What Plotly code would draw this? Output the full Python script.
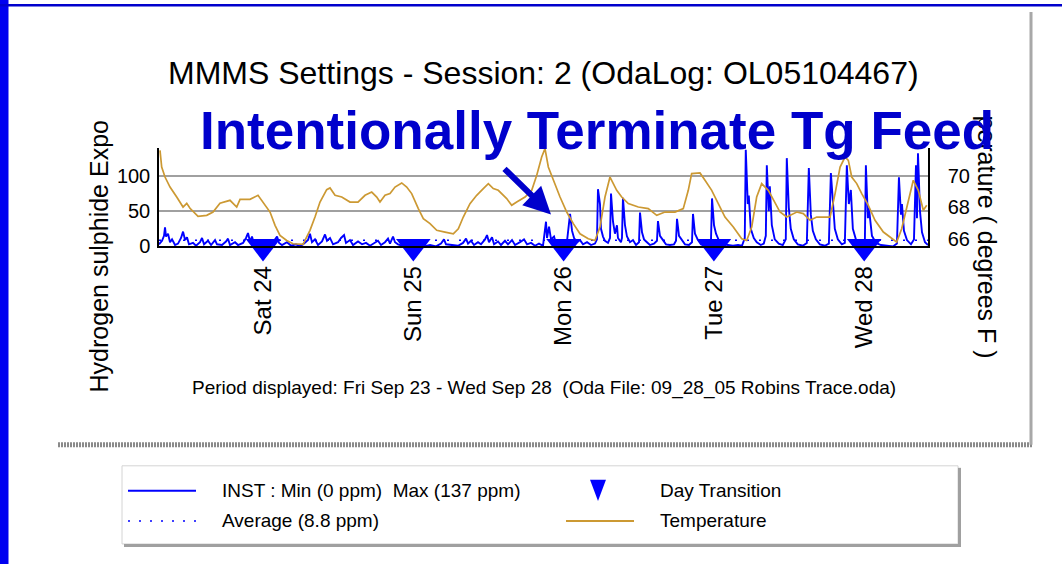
import pandas as pd
import plotly.graph_objects as go

W, H = 1062, 564          # reference picture size (coordinate system for decorations)
H_FIG = 576               # rendered height
BASE = pd.Timestamp("2005-09-23")

# ---------------- data ----------------
TEMP_HOURS = [7.55, 7.82, 8.35, 9.15, 10.22, 11.23, 11.82, 12.34, 13.62, 15.01, 16.02, 17.13, 18.73,
              19.80, 20.33, 21.92, 23.20, 24.00, 25.12, 25.92, 26.71, 27.78, 28.79, 30.39, 31.19, 31.50,
              32.30, 33.10, 34.17, 34.70, 35.50, 36.57, 37.89, 39.17, 40.29, 41.36, 42.16, 42.68, 43.48,
              44.28, 45.08, 46.15, 46.95, 47.74, 48.80, 49.60, 50.67, 51.74, 53.06, 54.39, 55.19, 55.98,
              57.05, 58.12, 59.18, 59.98, 60.77, 61.57, 62.91, 63.71, 64.51, 65.84, 66.91, 67.71, 68.50,
              69.03, 69.56, 70.36, 71.43, 72.50, 73.55, 74.62, 75.94, 77.01, 77.81, 78.61, 79.41, 80.48,
              81.28, 82.33, 83.93, 85.52, 86.87, 88.19, 89.79, 91.11, 91.91, 92.45, 93.78, 94.58, 95.65,
              96.70, 97.77, 99.10, 100.44, 101.24, 102.04, 102.83, 103.63, 104.69, 105.76, 106.56, 107.63,
              109.23, 110.28, 111.35, 112.42, 114.55, 115.35, 116.15, 116.94, 117.47, 118.01, 118.81,
              119.61, 120.66, 121.73, 123.06, 124.12, 125.19, 125.99, 126.79, 127.84, 128.64, 129.44, 129.99]
TEMP_F = [71.40, 70.33, 69.69, 69.05, 68.41, 67.77, 68.01, 67.69, 67.17, 67.24, 67.45, 68.01, 68.20,
          67.77, 68.26, 68.26, 68.52, 68.09, 67.45, 66.60, 65.96, 65.63, 65.42, 65.38, 65.96, 66.28,
          67.13, 68.09, 68.88, 68.99, 68.52, 68.41, 68.09, 68.09, 68.52, 68.73, 68.41, 68.09, 68.52,
          68.63, 69.05, 69.31, 69.05, 68.63, 67.67, 67.03, 66.71, 66.28, 66.17, 66.06, 66.38, 67.13,
          67.99, 68.52, 68.95, 69.27, 68.95, 68.84, 68.31, 67.88, 68.09, 68.41, 68.84, 69.80, 70.97,
          71.51, 70.33, 69.48, 68.41, 67.45, 66.71, 66.06, 65.74, 65.63, 66.49, 68.41, 69.69, 68.84,
          68.41, 67.99, 67.77, 67.67, 67.24, 67.45, 67.45, 67.67, 68.84, 69.91, 69.95, 69.48, 68.84,
          67.99, 67.13, 66.49, 65.74, 65.63, 66.49, 68.41, 69.27, 68.84, 68.09, 67.45, 67.13,
          67.45, 67.35, 66.92, 67.13, 67.13, 68.63, 70.33, 70.97, 70.76, 69.69, 69.27,
          68.63, 67.88, 66.92, 66.17, 65.85, 65.53, 66.38, 67.77, 69.48, 68.84, 67.56, 67.88]

INST_HOURS = [7.39, 7.87, 8.19, 8.35, 8.51, 8.83, 9.15, 9.47, 9.95, 10.43, 10.91, 11.23, 11.55, 11.86,
              12.18, 12.82, 13.30, 13.94, 14.26, 14.58, 15.22, 15.70, 16.34, 16.65, 17.45, 18.09, 18.41,
              18.73, 19.53, 20.01, 20.81, 21.29, 21.60, 21.92, 22.24, 22.56, 23.20, 23.68, 24.48, 25.12,
              25.76, 26.24, 26.56, 27.03, 27.83, 28.47, 29.27, 29.91, 30.55, 31.19, 31.50, 31.82, 32.30,
              32.78, 33.42, 33.90, 34.22, 34.70, 35.18, 35.98, 36.46, 36.94, 37.25, 37.89, 38.37, 39.17,
              39.81, 40.45, 41.09, 41.72, 42.36, 42.84, 43.48, 43.96, 44.28, 44.76, 45.08, 45.56, 46.20,
              47.00, 47.79, 48.75, 49.71, 50.67, 51.62, 52.42, 52.90, 53.22, 54.18, 55.14, 55.94, 56.42,
              56.74, 57.21, 57.69, 58.33, 58.81, 59.45, 59.77, 60.09, 60.57, 60.89, 61.53, 62.00, 62.64,
              63.12, 63.76, 64.24, 65.04, 65.68, 66.16, 66.80, 67.43, 68.07, 68.71, 69.19, 69.35, 69.67,
              69.99, 70.47, 70.79, 71.43, 71.91, 72.55, 73.03, 73.35, 73.67, 74.15, 74.62, 75.10, 75.74,
              76.38, 77.01, 77.33, 77.49, 77.81, 77.97, 78.29, 78.61, 79.09, 79.41, 79.57, 79.89, 80.20,
              80.52, 80.68, 81.16, 81.32, 81.48, 81.80, 82.12, 82.60, 83.08, 83.56, 84.04, 84.20, 84.52,
              84.84, 85.31, 85.79, 86.43, 86.91, 87.07, 87.39, 87.87, 88.35, 88.99, 89.63, 89.95, 90.11,
              90.43, 90.91, 91.38, 92.02, 92.50, 92.66, 92.98, 93.46, 93.94, 94.58, 95.22, 95.54, 95.70,
              96.02, 96.34, 96.82, 97.45, 98.25, 99.05, 99.85, 100.49, 100.93, 101.09, 101.41, 101.57,
              101.89, 102.37, 102.85, 103.49, 103.97, 104.29, 104.45, 104.77, 104.93, 105.25, 105.72,
              106.36, 107.00, 107.48, 107.64, 107.96, 108.28, 108.76, 109.40, 110.20, 110.84, 111.16,
              111.48, 111.80, 112.28, 112.92, 113.72, 114.36, 114.68, 115.00, 115.31, 115.79, 116.43,
              116.91, 117.23, 117.55, 117.87, 118.19, 118.67, 119.31, 119.79, 120.11, 120.27, 120.59,
              120.75, 121.24, 121.88, 122.68, 123.63, 124.59, 125.23, 125.55, 125.87, 126.03, 126.35,
              126.83, 127.47, 127.95, 128.27, 128.43, 128.59, 128.91, 129.23, 129.71, 130.19]
INST_PPM = [3, 8, 15, 27, 14, 18, 6, 10, 2, 4, 12, 21, 9, 13,
            3, 5, 1, 6, 12, 3, 8, 2, 9, 3, 2, 7, 11,
            2, 6, 2, 5, 12, 19, 7, 14, 3, 6, 2, 4, 1,
            8, 14, 5, 2, 6, 1, 3, 0, 4, 9, 18, 6, 10,
            2, 7, 17, 8, 12, 3, 6, 12, 16, 5, 9, 2, 7,
            3, 5, 1, 4, 8, 2, 6, 11, 4, 14, 6, 3, 1,
            4, 1, 3, 0, 2, 0, 4, 10, 3, 2, 1, 5, 11,
            4, 8, 2, 6, 3, 10, 16, 6, 13, 3, 7, 2, 8,
            3, 9, 2, 6, 10, 3, 5, 1, 4, 1, 35, 12, 28,
            10, 14, 4, 6, 3, 8, 46, 22, 12, 6, 9, 3, 6,
            2, 4, 10, 81, 60, 25, 14, 8, 5, 12, 75, 35, 18,
            30, 12, 6, 12, 69, 30, 14, 6, 9, 2, 6, 48, 20,
            10, 6, 2, 4, 8, 36, 15, 9, 3, 2, 3, 8, 39,
            15, 9, 3, 2, 6, 46, 18, 9, 3, 2, 3, 10, 68,
            30, 18, 8, 3, 2, 1, 2, 1, 12, 137, 60, 72,
            25, 12, 6, 2, 4, 15, 115, 50, 85, 30, 10,
            4, 2, 10, 125, 55, 25, 10, 3, 1, 5, 111,
            45, 22, 10, 3, 1, 4, 104, 65, 25, 10, 3,
            5, 115, 60, 80, 25, 10, 3, 2, 8, 115, 40,
            55, 15, 5, 2, 1, 0, 4, 98, 45, 60, 22,
            9, 3, 10, 115, 40, 132, 50, 20, 6, 2]

AVG_PPM = 8.8
DAY_DATES = ["2005-09-24", "2005-09-25", "2005-09-26", "2005-09-27", "2005-09-28"]
DAY_LABELS = ["Sat 24", "Sun 25", "Mon 26", "Tue 27", "Wed 28"]
X_START_H, X_END_H = 7.39, 130.19
PPM_TICKS = [0, 50, 100]
PPM_MINOR = [0, 25, 50, 75, 100, 125]
TEMP_TICKS = [66, 68, 70]
TEMP_MINOR = [66, 67, 68, 69, 70, 71]

TITLE = "MMMS Settings - Session: 2 (OdaLog: OL05104467)"
SUBTITLE = "Period displayed: Fri Sep 23 - Wed Sep 28\u00a0\u00a0(Oda File: 09_28_05 Robins Trace.oda)"
OVERLAY = "Intentionally Terminate Tg Feed"

# ---------------- helpers ----------------
def hrs(h):
    return BASE + pd.to_timedelta(h, unit="h")

def px(x):
    return x / W

def py(y):
    return 1 - y / H

FONT = "Liberation Sans, Arial, sans-serif"
BLUE = "#0000FF"
TAN = "#CC9933"
CLEAR = "rgba(0,0,0,0)"

t_temp = [hrs(h) for h in TEMP_HOURS]
t_inst = [hrs(h) for h in INST_HOURS]
x0, x1 = hrs(X_START_H), hrs(X_END_H)
PPM_RANGE = [0, 139]
TEMP_RANGE = [65.25, 71.53]

fig = go.Figure()
fig.add_trace(go.Scatter(x=t_temp, y=TEMP_F, yaxis="y2", mode="lines",
                         line=dict(color=TAN, width=1.7), showlegend=False, hoverinfo="skip"))
fig.add_trace(go.Scatter(x=t_inst, y=INST_PPM, mode="lines",
                         line=dict(color=BLUE, width=1.9), showlegend=False, hoverinfo="skip"))
fig.add_trace(go.Scatter(x=[x0, x1], y=[AVG_PPM, AVG_PPM], mode="lines",
                         line=dict(color=BLUE, width=1.6, dash="2px,10px"), showlegend=False, hoverinfo="skip"))
fig.add_trace(go.Scatter(x=pd.to_datetime(DAY_DATES), y=[0] * len(DAY_DATES), mode="markers",
                         marker=dict(symbol="triangle-down", size=30, color=BLUE),
                         cliponaxis=False, showlegend=False, hoverinfo="skip"))

dom_x = [px(159), px(928)]
dom_y = [py(246), py(148)]
tickfont = dict(family=FONT, size=20, color="black")

fig.update_layout(
    width=W, height=H_FIG, margin=dict(l=0, r=0, t=0, b=0),
    paper_bgcolor="white", plot_bgcolor=CLEAR, showlegend=False,
    xaxis=dict(domain=dom_x, type="date", range=[x0, x1], tickmode="array",
               tickvals=pd.to_datetime(DAY_DATES), ticktext=DAY_LABELS, tickangle=-90,
               ticks="outside", ticklen=8, tickcolor=CLEAR,
               tickfont=dict(family=FONT, size=24, color="black"),
               showgrid=False, zeroline=False, showline=True, linecolor="black", linewidth=2,
               anchor="y"),
    yaxis=dict(domain=dom_y, range=PPM_RANGE, tickmode="array", tickvals=PPM_TICKS,
               ticktext=[str(v) for v in PPM_TICKS], ticks="outside", ticklen=3,
               tickcolor=CLEAR, tickfont=tickfont, showgrid=True, gridcolor="#A0A0A0", gridwidth=2,
               zeroline=False, showline=True, linecolor="black", linewidth=1.5, anchor="x"),
    yaxis3=dict(domain=dom_y, range=PPM_RANGE, overlaying="y", side="left", anchor="x",
                tickmode="array", tickvals=PPM_MINOR, ticks="outside", ticklen=6, tickwidth=1.5,
                tickcolor="black", showticklabels=False, showgrid=False, zeroline=False, showline=False),
    yaxis4=dict(domain=dom_y, range=PPM_RANGE, overlaying="y", side="left", anchor="x",
                tickmode="array", tickvals=PPM_MINOR, ticks="inside", ticklen=5, tickwidth=1.5,
                tickcolor="black", showticklabels=False, showgrid=False, zeroline=False, showline=False),
    yaxis2=dict(domain=dom_y, range=TEMP_RANGE, overlaying="y", side="right", anchor="x",
                tickmode="array", tickvals=TEMP_TICKS, ticktext=[str(v) for v in TEMP_TICKS],
                ticks="outside", ticklen=14, tickcolor=CLEAR, tickfont=tickfont, ticklabelshift=4,
                showgrid=False, zeroline=False, showline=True, linecolor="black", linewidth=1.5),
    yaxis5=dict(domain=dom_y, range=TEMP_RANGE, overlaying="y", side="right", anchor="x",
                tickmode="array", tickvals=TEMP_MINOR, ticks="outside", ticklen=6, tickwidth=1.5,
                tickcolor="black", showticklabels=False, showgrid=False, zeroline=False, showline=False),
    yaxis6=dict(domain=dom_y, range=TEMP_RANGE, overlaying="y", side="right", anchor="x",
                tickmode="array", tickvals=TEMP_MINOR, ticks="inside", ticklen=5, tickwidth=1.5,
                tickcolor="black", showticklabels=False, showgrid=False, zeroline=False, showline=False),
)

shapes = []
# page decorations
shapes.append(dict(type="rect", xref="paper", yref="paper", x0=0, x1=px(8.5), y0=0, y1=1,
                   fillcolor="#0000F0", line=dict(width=0), layer="above"))
shapes.append(dict(type="rect", xref="paper", yref="paper", x0=0, x1=1, y0=py(6.5), y1=py(4),
                   fillcolor="#0000CC", line=dict(width=0)))
shapes.append(dict(type="line", xref="paper", yref="paper", x0=px(58), x1=px(1033), y0=py(444), y1=py(444),
                   line=dict(color="#8a8a8a", width=5, dash="2px,1px")))
shapes.append(dict(type="line", xref="paper", yref="paper", x0=px(1031), x1=px(1031), y0=py(12), y1=py(444),
                   line=dict(color="#a8a8a8", width=3)))
# legend box
shapes.append(dict(type="rect", xref="paper", yref="paper", x0=px(122), x1=px(958), y0=py(543), y1=py(465),
                   line=dict(color="#d4d4d4", width=1), fillcolor="white"))
shapes.append(dict(type="line", xref="paper", yref="paper", x0=px(959.5), x1=px(959.5), y0=py(467), y1=py(546),
                   line=dict(color="#a0a0a0", width=3)))
shapes.append(dict(type="line", xref="paper", yref="paper", x0=px(124), x1=px(961), y0=py(544.5), y1=py(544.5),
                   line=dict(color="#a0a0a0", width=3)))
# legend samples
shapes.append(dict(type="line", xref="paper", yref="paper", x0=px(128), x1=px(196), y0=py(490), y1=py(490),
                   line=dict(color=BLUE, width=2)))
shapes.append(dict(type="line", xref="paper", yref="paper", x0=px(128), x1=px(196), y0=py(520), y1=py(520),
                   line=dict(color=BLUE, width=1.5, dash="2px,9px")))
shapes.append(dict(type="line", xref="paper", yref="paper", x0=px(566), x1=px(634), y0=py(520), y1=py(520),
                   line=dict(color=TAN, width=2)))
tri = "M {} {} L {} {} L {} {} Z".format(px(590), py(479), px(606), py(479), px(598), py(500))
shapes.append(dict(type="path", xref="paper", yref="paper", path=tri, fillcolor=BLUE, line=dict(width=0)))
fig.update_layout(shapes=shapes)

ann = []
ann.append(dict(text=TITLE, x=px(543), y=py(73), xref="paper", yref="paper", showarrow=False,
                font=dict(family=FONT, size=32, color="black"), xanchor="center", yanchor="middle"))
ann.append(dict(text=SUBTITLE, x=px(544), y=py(387), xref="paper", yref="paper", showarrow=False,
                font=dict(family=FONT, size=19, color="black"), xanchor="center", yanchor="middle"))
ann.append(dict(text="Hydrogen sulphide Expo", x=px(99), y=py(256), xref="paper", yref="paper",
                showarrow=False, textangle=-90, font=dict(family=FONT, size=25, color="black"),
                xanchor="center", yanchor="middle"))
ann.append(dict(text="perature ( degrees F )", x=px(987), y=py(236), xref="paper", yref="paper",
                showarrow=False, textangle=90, font=dict(family=FONT, size=25, color="black"),
                xanchor="center", yanchor="middle"))
ann.append(dict(text="<b>" + OVERLAY + "</b>", x=px(597), y=py(130), xref="paper", yref="paper",
                showarrow=False, font=dict(family=FONT, size=53, color="#0000CC"),
                xanchor="center", yanchor="middle"))
ann.append(dict(text="", x=px(551), y=py(214), xref="paper", yref="paper", showarrow=True,
                ax=-48, ay=-47, arrowcolor="#0000CC", arrowwidth=6, arrowhead=2, arrowsize=0.9,
                standoff=0, startstandoff=0))
# legend texts
lf = dict(family=FONT, size=19, color="black")
for txt, x, y in [("INST : Min (0 ppm)\u00a0\u00a0Max (137 ppm)", 220, 490), ("Average (8.8 ppm)", 220, 520),
                  ("Day Transition", 658, 490), ("Temperature", 658, 520)]:
    ann.append(dict(text=txt, x=px(x), y=py(y), xref="paper", yref="paper", showarrow=False,
                    font=lf, xanchor="left", yanchor="middle"))
fig.update_layout(annotations=ann)

fig.write_html("out.html", config={"displayModeBar": False},
               post_script="document.body.style.margin='0px';"
                           "document.body.style.overflow='hidden';"
                           "document.documentElement.style.overflow='hidden';")
